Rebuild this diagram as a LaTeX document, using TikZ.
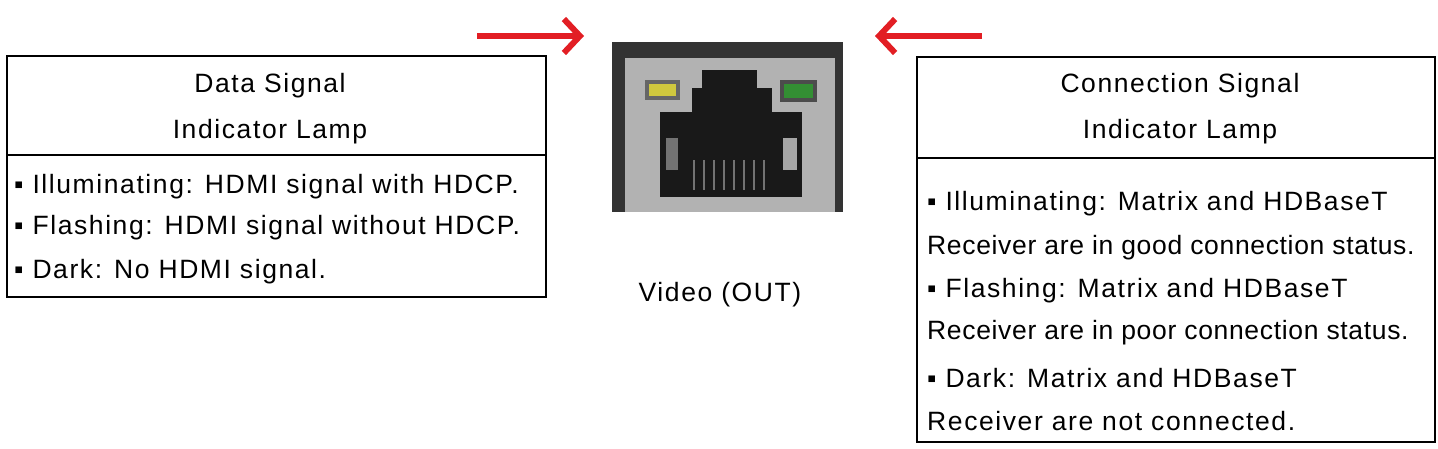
\documentclass[tikz,border=0pt]{standalone}
\usepackage{fontspec}
\usetikzlibrary{arrows.meta}
\setmainfont{Liberation Sans}[LetterSpace=6]
\newfontfamily\tightfam{Liberation Sans}[LetterSpace=2.5]
\begin{document}
\begin{tikzpicture}[x=1pt,y=-1pt,
  box/.style={draw=black,line width=1.6pt},
  txt/.style={font=\fontsize{26.5}{30}\selectfont,anchor=west,inner sep=0pt},
  tight/.style={font=\tightfam\fontsize{26.5}{30}\selectfont,anchor=west,inner sep=0pt},
  head/.style={font=\fontsize{26.5}{30}\selectfont,align=center,inner sep=0pt},
  red arrow/.style={draw={rgb,255:red,226;green,30;blue,36},line width=6pt,-{Straight Barb[length=16pt,width=34pt,line width=6pt]}}]
\useasboundingbox (0,0) rectangle (1438,448);
% left box
\draw[box] (7,56) rectangle (546,297);
\draw[box] (7,155) -- (546,155);
\node[head] (lh) at (270,109) {Data Signal\\[16pt]Indicator Lamp};
\node[txt] (l1) at (14,187) {▪ Illuminating: HDMI signal with HDCP.};
\node[txt] (l2) at (14,228) {▪ Flashing: HDMI signal without HDCP.};
\node[txt] (l3) at (14,272) {▪ Dark: No HDMI signal.};
% right box
\draw[box] (917,57) rectangle (1435,442);
\draw[box] (917,158) -- (1435,158);
\node[head] (rh) at (1180,109) {Connection Signal\\[16pt]Indicator Lamp};
\node[txt] (r1) at (927,204) {▪ Illuminating: Matrix and HDBaseT};
\node[tight] (r2) at (927,248) {Receiver are in good connection status.};
\node[txt] (r3) at (927,291) {▪ Flashing: Matrix and HDBaseT};
\node[tight] (r4) at (927,333) {Receiver are in poor connection status.};
\node[txt] (r5) at (927,378) {▪ Dark: Matrix and HDBaseT};
\node[txt] (r6) at (927,421) {Receiver are not connected.};
% port photo
\fill[black!80] (612,42) rectangle (843,212);
\fill[black!30] (625,58) rectangle (835,212);
\fill[black!90] (702,70) rectangle (757,92);
\fill[black!90] (692,88) rectangle (772,113);
\fill[black!90] (660,112) rectangle (802,197);
\fill[black!55] (666,138) rectangle (678,170);
\fill[black!35] (783,138) rectangle (797,170);
\foreach \i in {0,...,7} \draw[black!55,line width=1.5pt] (694+\i*10,160) -- (694+\i*10,190);
\fill[black!60] (645,80) rectangle (680,100);
\fill[yellow!40!olive!70] (649,84) rectangle (676,96);
\fill[black!70] (780,80) rectangle (817,102);
\fill[green!45!black!80] (784,84) rectangle (813,98);
\node[font=\fontsize{26.5}{30}\selectfont] (vo) at (720,295) {Video (OUT)};
% arrows
\coordinate (a1) at (477,36); \coordinate (a2) at (584,36);
\coordinate (b1) at (982,36); \coordinate (b2) at (875,36);
\draw[red arrow] (a1) -- (a2);
\draw[red arrow] (b1) -- (b2);
\end{tikzpicture}
\end{document}
